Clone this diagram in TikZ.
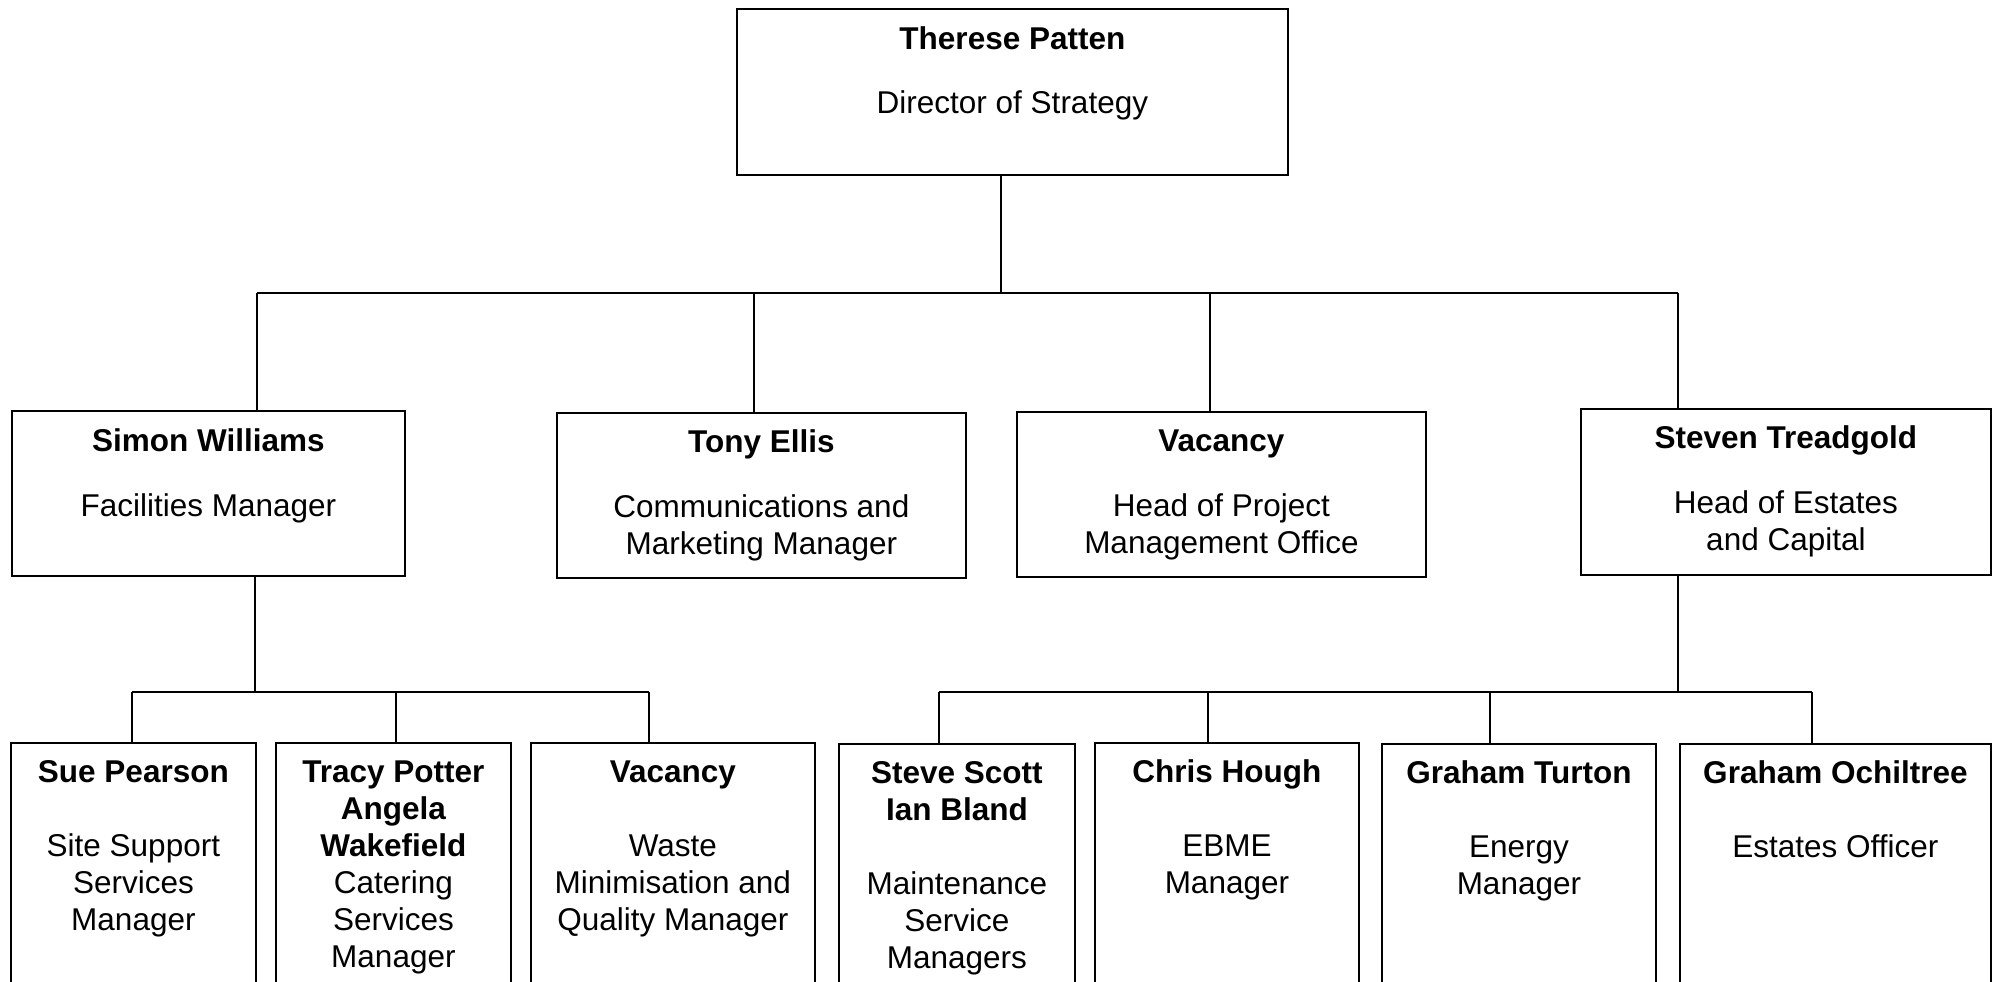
\documentclass[tikz,border=0pt]{standalone}
\usepackage{fontspec}
\setmainfont{Liberation Sans}
\usepackage{tikz}
\usetikzlibrary{positioning,calc}
\newcommand{\orgfont}{\fontsize{31.5}{37}\selectfont}
\newcommand{\card}[1]{\begin{tabular}[t]{@{}c@{}}#1\end{tabular}}

\begin{document}
\begin{tikzpicture}[x=1pt,y=-1pt,line width=1.8pt,
  post/.style={draw,rectangle,anchor=north west,inner sep=0pt},
  txt/.style={anchor=base,inner sep=0pt,font=\orgfont}]
  \useasboundingbox (0,0) rectangle (1997,982);
  \clip (0,0) rectangle (1997,982);
  % boxes
  \node[post,minimum width=551pt,minimum height=166pt] (dir) at (736,8) {};
  \node[post,minimum width=393pt,minimum height=165pt] (simon) at (11,410) {};
  \node[post,minimum width=409pt,minimum height=165pt] (tony) at (556,412) {};
  \node[post,minimum width=409pt,minimum height=165pt] (pmo) at (1016,411) {};
  \node[post,minimum width=410pt,minimum height=166pt] (steven) at (1580,408) {};
  \node[post,minimum width=245pt,minimum height=290pt] (sue) at (10,742) {};
  \node[post,minimum width=235pt,minimum height=290pt] (tracy) at (275,742) {};
  \node[post,minimum width=284pt,minimum height=290pt] (waste) at (530,742) {};
  \node[post,minimum width=236pt,minimum height=290pt] (scott) at (838,743) {};
  \node[post,minimum width=264pt,minimum height=290pt] (hough) at (1094,742) {};
  \node[post,minimum width=274pt,minimum height=290pt] (turton) at (1381,743) {};
  \node[post,minimum width=311pt,minimum height=290pt] (ochil) at (1679,743) {};
  % texts
  \node[txt] (dir-t) at ([yshift=-41pt]dir.north) {\card{\textbf{Therese Patten}\\[28pt]Director of Strategy}};
  \node[txt] (simon-t) at ([yshift=-41pt]simon.north) {\card{\textbf{Simon Williams}\\[28pt]Facilities Manager}};
  \node[txt] (tony-t) at ([yshift=-40pt]tony.north) {\card{\textbf{Tony Ellis}\\[28pt]Communications and\\Marketing Manager}};
  \node[txt] (pmo-t) at ([yshift=-40pt]pmo.north) {\card{\textbf{Vacancy}\\[28pt]Head of Project\\Management Office}};
  \node[txt] (steven-t) at ([yshift=-40pt]steven.north) {\card{\textbf{Steven Treadgold}\\[28pt]Head of Estates\\and Capital}};
  \node[txt] (sue-t) at ([yshift=-40pt]sue.north) {\card{\textbf{Sue Pearson}\\[37pt]Site Support\\Services\\Manager}};
  \node[txt] (tracy-t) at ([yshift=-40pt]tracy.north) {\card{\textbf{Tracy Potter}\\\textbf{Angela}\\\textbf{Wakefield}\\Catering\\Services\\Manager}};
  \node[txt] (waste-t) at ([yshift=-40pt]waste.north) {\card{\textbf{Vacancy}\\[37pt]Waste\\Minimisation and\\Quality Manager}};
  \node[txt] (scott-t) at ([yshift=-40pt]scott.north) {\card{\textbf{Steve Scott}\\\textbf{Ian Bland}\\[37pt]Maintenance\\Service\\Managers}};
  \node[txt] (hough-t) at ([yshift=-40pt]hough.north) {\card{\textbf{Chris Hough}\\[37pt]EBME\\Manager}};
  \node[txt] (turton-t) at ([yshift=-40pt]turton.north) {\card{\textbf{Graham Turton}\\[37pt]Energy\\Manager}};
  \node[txt] (ochil-t) at ([yshift=-40pt]ochil.north) {\card{\textbf{Graham Ochiltree}\\[37pt]Estates Officer}};
  % level 1 lines
  \coordinate (bus1) at (1001,293);
  \draw (bus1 |- dir.south) -- (bus1);
  \draw (257,293) -- (1678,293);
  \foreach \x/\n in {257/simon,754/tony,1210/pmo,1678/steven}
    \draw (\x,293) coordinate (d) -- (d |- \n.north);
  % level 2 lines, left
  \coordinate (bus2) at (255,692);
  \draw (bus2 |- simon.south) -- (bus2);
  \draw (132,692) -- (649,692);
  \foreach \x/\n in {132/sue,396/tracy,649/waste}
    \draw (\x,692) coordinate (d) -- (d |- \n.north);
  % level 2 lines, right
  \coordinate (bus3) at (1678,692);
  \draw (bus3 |- steven.south) -- (bus3);
  \draw (939,692) -- (1812,692);
  \foreach \x/\n in {939/scott,1208/hough,1490/turton,1812/ochil}
    \draw (\x,692) coordinate (d) -- (d |- \n.north);
\end{tikzpicture}
\end{document}
